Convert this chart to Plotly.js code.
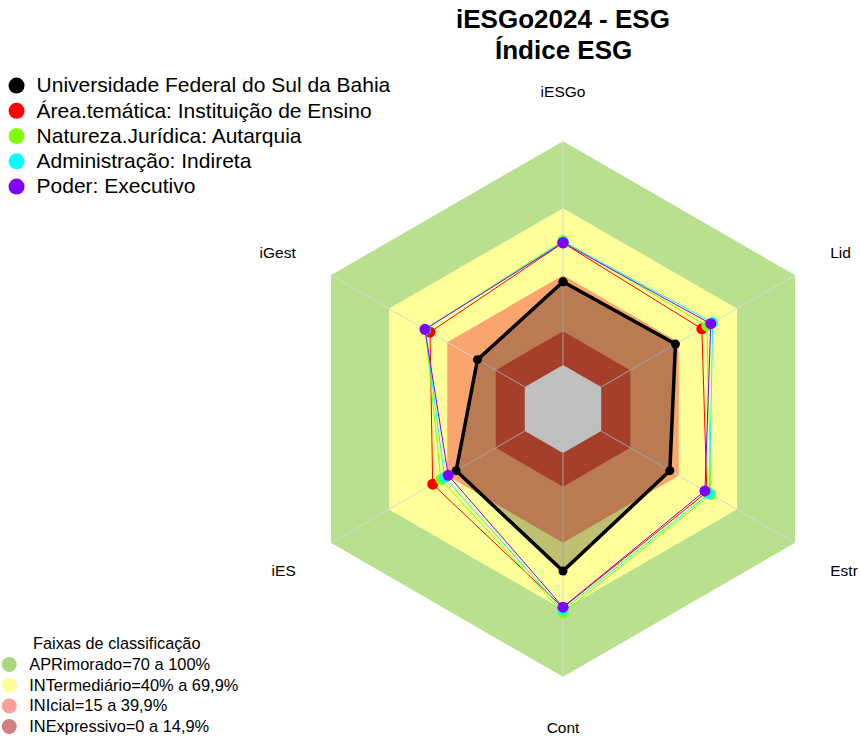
<!DOCTYPE html>
<html><head><meta charset="utf-8">
<script src="https://cdn.plot.ly/plotly-3.0.1.min.js"></script>
<style>html,body{margin:0;padding:0;background:#fff}#chart{width:860px;height:742px}</style>
</head><body><div id="chart"></div>
<script>
// ---- data ----
const categories = ['iESGo', 'Lid', 'Estr', 'Cont', 'iES', 'iGest'];
const seriesNames = [
  'Universidade Federal do Sul da Bahia',
  'Área.temática: Instituição de Ensino',
  'Natureza.Jurídica: Autarquia',
  'Administração: Indireta',
  'Poder: Executivo'
];
const ufsb             = [37.1, 38.3, 35.4, 52.7, 35.4, 24.4];
const areaTematica     = [54.5, 51.9, 54.5, 69.0, 47.5, 48.9];
const naturezaJuridica = [55.5, 54.5, 56.6, 71.4, 43.3, 51.3];
const administracao    = [55.0, 57.5, 55.8, 70.1, 41.4, 51.3];
const poder            = [54.6, 56.5, 53.5, 68.8, 39.5, 51.5];
const seriesColors = ['#000000', '#FF0000', '#80FF00', '#00FFFF', '#8000FF'];

const titleLines = ['iESGo2024 - ESG', 'Índice ESG'];
const bandTitle = 'Faixas de classificação';
const bandNames = ['APRimorado=70 a 100%', 'INTermediário=40% a 69,9%', 'INIcial=15 a 39,9%', 'INExpressivo=0 a 14,9%'];
const bandUpper = [100, 70, 40, 15];
const bandFloor = 0;
const axisMin = -19.7, axisMax = 100;

// ---- styles / geometry ----
const bandFill = ['#B9E08E', '#FFFF99', '#FAA46E', '#DC5538'];
const bandLegendColor = ['#AAD87F', '#FFFF99', '#FF9C9C', '#D27F7F'];
const R = 268, cx = 563, cyTop = 409, W = 860, H = 742;

const closeRing = a => a.concat([a[0]]);
const thetaClosed = closeRing(categories);
const traces = [];

bandUpper.forEach((u, i) => {
  traces.push({
    type: 'scatterpolar', r: closeRing(categories.map(() => u)), theta: thetaClosed,
    mode: 'lines', fill: 'toself', fillcolor: bandFill[i],
    line: {width: 0, color: bandFill[i]}, showlegend: false, hoverinfo: 'skip'
  });
});
traces.push({
  type: 'scatterpolar', r: closeRing(categories.map(() => bandFloor)), theta: thetaClosed,
  mode: 'lines', fill: 'toself', fillcolor: '#FFFFFF',
  line: {width: 0, color: '#FFFFFF'}, showlegend: false, hoverinfo: 'skip'
});
traces.push({
  type: 'scatterpolar',
  r: categories.flatMap(() => [bandFloor, axisMax, null]),
  theta: categories.flatMap(c => [c, c, null]),
  mode: 'lines', line: {color: '#D8D8D8', width: 1}, connectgaps: false,
  showlegend: false, hoverinfo: 'skip'
});

const allSeries = [ufsb, areaTematica, naturezaJuridica, administracao, poder];
allSeries.forEach((vals, i) => {
  const isMain = i === 0;
  traces.push({
    type: 'scatterpolar', r: closeRing(vals), theta: thetaClosed,
    mode: 'lines+markers',
    fill: isMain ? 'toself' : 'none',
    fillcolor: 'rgba(0,0,0,0.25)',
    line: {color: seriesColors[i], width: isMain ? 3.5 : 1},
    marker: {color: seriesColors[i], size: isMain ? 9 : 11},
    name: seriesNames[i], showlegend: false
  });
});
// legend-only entries (a single empty point so nothing is drawn)
seriesNames.forEach((n, i) => {
  traces.push({
    type: 'scatterpolar', r: [null], theta: [categories[0]], mode: 'markers',
    marker: {color: seriesColors[i], size: 16},
    name: '<span style="font-size:21px">' + n + '</span>', legend: 'legend', hoverinfo: 'skip'
  });
});
bandNames.forEach((n, i) => {
  traces.push({
    type: 'scatterpolar', r: [null], theta: [categories[0]], mode: 'markers',
    marker: {color: bandLegendColor[i], size: 15},
    name: '<span style="font-size:16.4px">' + n + '</span>', legend: 'legend2', hoverinfo: 'skip'
  });
});

const layout = {
  width: W, height: H, margin: {l: 0, r: 0, t: 0, b: 0, autoexpand: false},
  paper_bgcolor: '#FFFFFF',
  font: {family: '"Liberation Sans", Arial, sans-serif', color: '#000000'},
  annotations: titleLines.map((t, i) => ({
    text: t, xref: 'paper', yref: 'paper', x: cx / W, y: 1 - (19 + 31 * i) / H,
    xanchor: 'center', yanchor: 'middle', showarrow: false,
    font: {size: 26, weight: 'bold', color: '#000000'}
  })),
  polar: {
    domain: {x: [(cx - R) / W, (cx + R) / W], y: [(H - cyTop - R) / H, (H - cyTop + R) / H]},
    gridshape: 'linear', bgcolor: 'rgba(0,0,0,0)',
    radialaxis: {range: [axisMin, axisMax], visible: false},
    angularaxis: {
      type: 'category', categoryarray: categories, rotation: 90, direction: 'clockwise',
      showgrid: false, showline: false, ticks: 'outside', ticklen: 37,
      tickcolor: 'rgba(0,0,0,0)', tickfont: {size: 15.5, color: '#000000'}
    }
  },
  legend: {
    x: -0.004, xanchor: 'left', y: 1 - 68 / H, yanchor: 'top',
    font: {size: 17.1, color: '#000000'}, bgcolor: 'rgba(0,0,0,0)', itemsizing: 'trace',
    tracegroupgap: 0
  },
  legend2: {
    x: -0.0125, xanchor: 'left', y: 0, yanchor: 'bottom',
    title: {text: bandTitle, side: 'top center', font: {size: 16.3, color: '#000000'}},
    font: {size: 13.6, color: '#000000'}, bgcolor: 'rgba(0,0,0,0)', itemsizing: 'trace'
  },
  showlegend: true
};
Plotly.newPlot('chart', traces, layout, {displayModeBar: false, staticPlot: true});
</script>
</body></html>
